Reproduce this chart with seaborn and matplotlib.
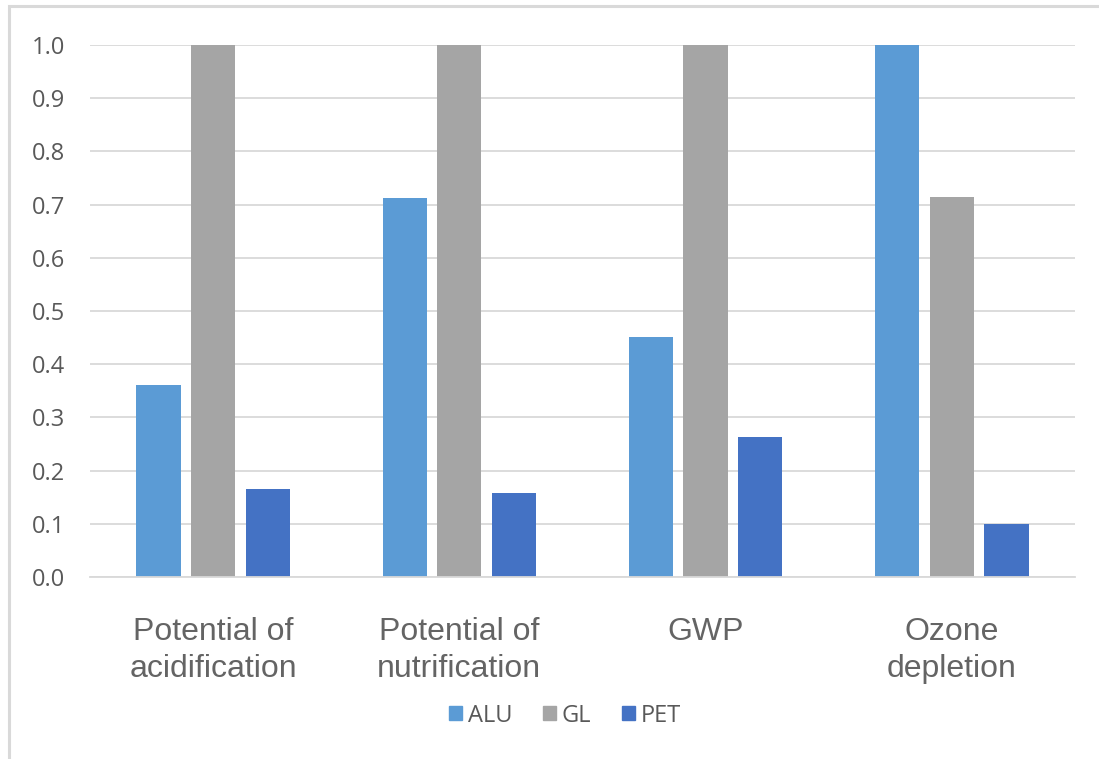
import matplotlib
matplotlib.use("Agg")
import matplotlib.pyplot as plt
import matplotlib.patches as mpatches
import pandas as pd
import seaborn as sns

categories = ["Potential of\nacidification", "Potential of\nnutrification", "GWP", "Ozone\ndepletion"]
materials = ["ALU", "GL", "PET"]
alu_values = [0.361, 0.712, 0.451, 1.0]
gl_values = [1.0, 1.0, 1.0, 0.714]
pet_values = [0.165, 0.158, 0.263, 0.099]
y_ticks = [0.0, 0.1, 0.2, 0.3, 0.4, 0.5, 0.6, 0.7, 0.8, 0.9, 1.0]

colors = {"ALU": "#5B9BD5", "GL": "#A5A5A5", "PET": "#4472C4"}
text_gray = "#595959"

rows = []
for mat, vals in zip(materials, [alu_values, gl_values, pet_values]):
    for cat, v in zip(categories, vals):
        rows.append({"category": cat, "material": mat, "value": v})
df = pd.DataFrame(rows)

sns.set_style("white")
fig = plt.figure(figsize=(10.99, 7.59), dpi=100)
ax = fig.add_axes([0.0819, 0.2398, 0.978 - 0.0819, 0.9407 - 0.2398])

sns.barplot(data=df, x="category", y="value", hue="material", order=categories,
            hue_order=materials, palette=colors, saturation=1, width=0.666, gap=0.19,
            edgecolor="none", linewidth=0, legend=False, ax=ax)

ax.set_xlim(-0.5, 3.5)
ax.set_ylim(0, 1.0)
ax.set_yticks(y_ticks)
ax.set_yticklabels([f"{t:.1f}" for t in y_ticks], fontfamily="Open Sans",
                   fontsize=17, color=text_gray)
ax.set_xticks(range(len(categories)))
ax.set_xticklabels(categories, fontfamily="Liberation Sans", fontsize=23,
                   color="#646464", linespacing=1.3)
ax.tick_params(axis="x", length=0, pad=29)
ax.tick_params(axis="y", length=0, pad=18)
ax.set_xlabel("")
ax.set_ylabel("")
ax.grid(axis="y", color="#D9D9D9", linewidth=1.3)
ax.set_axisbelow(True)
for side in ["top", "right", "left"]:
    ax.spines[side].set_visible(False)
ax.spines["bottom"].set_color("#D9D9D9")
ax.spines["bottom"].set_linewidth(1.3)

handles = [mpatches.Patch(color=colors[m], label=m) for m in materials]
leg = fig.legend(handles=handles, loc="center", bbox_to_anchor=(0.514, 0.057),
                 ncol=3, frameon=False, handlelength=0.55, handleheight=0.55,
                 handletextpad=0.25, columnspacing=1.3,
                 prop={"family": "Open Sans", "size": 17})
for t in leg.get_texts():
    t.set_color(text_gray)

# chart border (top and left edges visible in the reference)
fig.patches.append(mpatches.Rectangle((0.0082, -0.05), 1.1, 1.0418, transform=fig.transFigure,
                                      fill=False, edgecolor="#D9D9D9", linewidth=2.2))

fig.savefig("out.png", dpi=100)
